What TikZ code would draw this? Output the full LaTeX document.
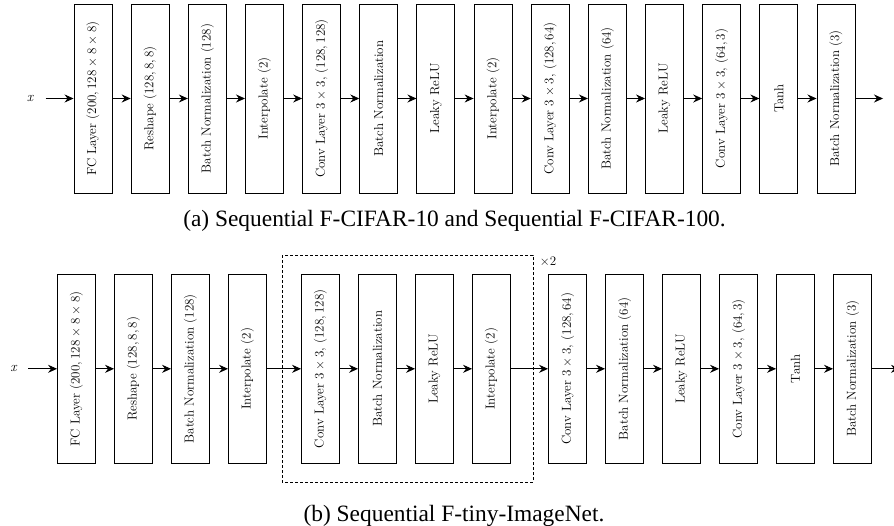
\documentclass[tikz,border=0pt]{standalone}
\usepackage{fontspec}
\newfontfamily\capfont{Liberation Serif}
\usetikzlibrary{arrows.meta}
\newcommand{\tms}{\kern0.2222em×\kern0.2222em}
\newcommand{\cm}{,\kern0.1667em}
\begin{document}
\begin{tikzpicture}[x=1pt,y=-1pt,
  layer/.style={draw, line width=0.9pt, rotate=90, minimum width=189pt, minimum height=38pt, inner sep=0pt,
    font=\fontsize{13}{15}\selectfont},
  lbl/.style={font=\fontsize{14}{16}\selectfont\itshape, inner sep=0pt},
  flow/.style={line width=0.9pt, -{Stealth[length=9pt,width=8pt,inset=3pt]}},
  caption/.style={font=\capfont\fontsize{23.4}{27}\selectfont, inner sep=0pt, anchor=base},
  repeatbox/.style={draw, line width=0.8pt, dash pattern=on 3pt off 2pt}]
\useasboundingbox (0,0) rectangle (894,525);
% ---------- (a) ----------
\node[lbl] (tx) at (30,98) {x};
\node[layer] (t1)  at (93.00,98.5)  {FC Layer (200\cm128\tms8\tms8)};
\node[layer] (t2)  at (150.15,98.5) {Reshape (128\cm8\cm8)};
\node[layer] (t3)  at (207.30,98.5) {Batch Normalization (128)};
\node[layer] (t4)  at (264.45,98.5) {Interpolate (2)};
\node[layer] (t5)  at (321.60,98.5) {Conv Layer 3\tms3, (128\cm128)};
\node[layer] (t6)  at (378.75,98.5) {Batch Normalization};
\node[layer] (t7)  at (435.90,98.5) {Leaky ReLU};
\node[layer] (t8)  at (493.05,98.5) {Interpolate (2)};
\node[layer] (t9)  at (550.20,98.5) {Conv Layer 3\tms3, (128\cm64)};
\node[layer] (t10) at (607.35,98.5) {Batch Normalization (64)};
\node[layer] (t11) at (664.50,98.5) {Leaky ReLU};
\node[layer] (t12) at (721.65,98.5) {Conv Layer 3\tms3, (64\cm3)};
\node[layer] (t13) at (778.80,98.5) {Tanh};
\node[layer] (t14) at (835.95,98.5) {Batch Normalization (3)};
\coordinate (tout) at (883,98.5);
\coordinate (tin) at (45.5,98.5);
\draw[flow] (tin) -- (t1.north);
\foreach \a/\b in {t1/t2,t2/t3,t3/t4,t4/t5,t5/t6,t6/t7,t7/t8,t8/t9,t9/t10,t10/t11,t11/t12,t12/t13,t13/t14}
  \draw[flow] (\a.south) -- (\b.north);
\draw[flow] (t14.south) -- (tout);
\node[caption] (capa) at (454.5,226) {(a) Sequential F-CIFAR-10 and Sequential F-CIFAR-100.};
% ---------- (b) ----------
\node[lbl] (bx) at (13.5,368.3) {x};
\node[layer] (b1)  at (76.5,368.8)  {FC Layer (200\cm128\tms8\tms8)};
\node[layer] (b2)  at (133.5,368.8) {Reshape (128\cm8\cm8)};
\node[layer] (b3)  at (190.5,368.8) {Batch Normalization (128)};
\node[layer] (b4)  at (247.5,368.8) {Interpolate (2)};
\node[layer] (b5)  at (320.5,368.8) {Conv Layer 3\tms3, (128\cm128)};
\node[layer] (b6)  at (377.5,368.8) {Batch Normalization};
\node[layer] (b7)  at (434.5,368.8) {Leaky ReLU};
\node[layer] (b8)  at (491.5,368.8) {Interpolate (2)};
\node[layer] (b9)  at (567.5,368.8) {Conv Layer 3\tms3, (128\cm64)};
\node[layer] (b10) at (624.5,368.8) {Batch Normalization (64)};
\node[layer] (b11) at (681.5,368.8) {Leaky ReLU};
\node[layer] (b12) at (738.5,368.8) {Conv Layer 3\tms3, (64\cm3)};
\node[layer] (b13) at (795.5,368.8) {Tanh};
\node[layer] (b14) at (852.5,368.8) {Batch Normalization (3)};
\coordinate (bin) at (28,368.8);
\coordinate (bout) at (900,368.8);
\draw[repeatbox] (282,255) rectangle (533,482);
\node[font=\fontsize{13}{15}\selectfont, inner sep=0pt] (times) at (548,261.5) {×2};
\draw[flow] (bin) -- (b1.north);
\foreach \a/\b in {b1/b2,b2/b3,b3/b4,b4/b5,b5/b6,b6/b7,b7/b8,b8/b9,b9/b10,b10/b11,b11/b12,b12/b13,b13/b14}
  \draw[flow] (\a.south) -- (\b.north);
\draw[flow] (b14.south) -- (bout);
\node[caption] (capb) at (454,521) {(b) Sequential F-tiny-ImageNet.};
\end{tikzpicture}
\end{document}
